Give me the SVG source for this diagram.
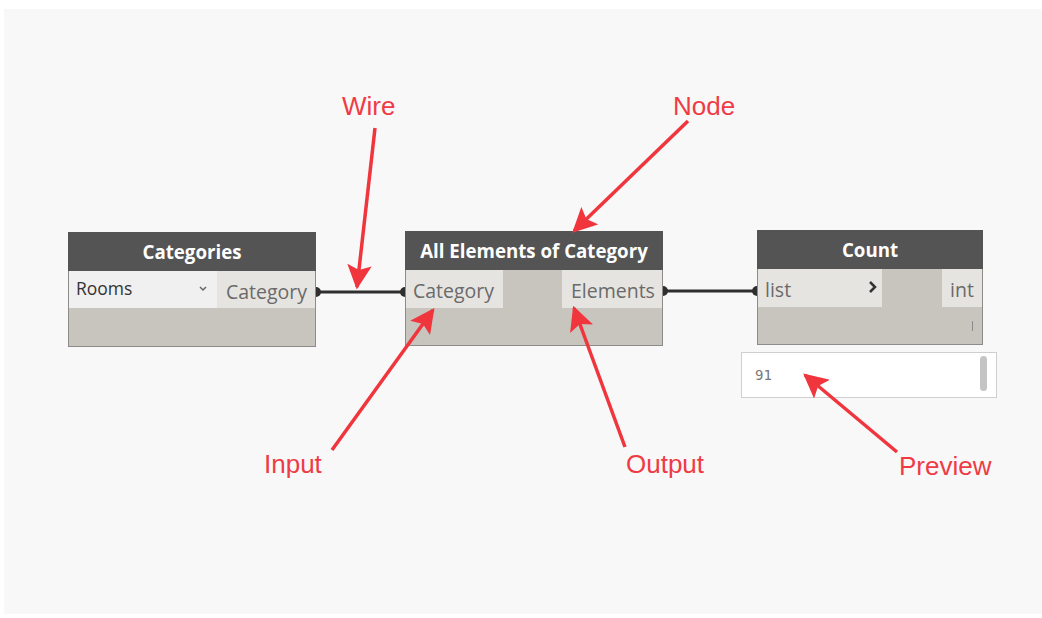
<svg xmlns="http://www.w3.org/2000/svg" width="1042" height="618" viewBox="0 0 1042 618">
  <defs>
    <marker id="head" viewBox="0 0 10 10" refX="9" refY="5" markerWidth="7" markerHeight="7" markerUnits="strokeWidth" orient="auto">
      <path d="M0,0 L10,5 L0,10 L2,5 Z" fill="#f0353d"/>
    </marker>
    <style>
      .hdr { fill: #545454; }
      .body { fill: #c8c4be; stroke: #8e8c88; stroke-width: 1; }
      .port { fill: #e6e4e0; }
      .title { font-family: "Open Sans", "Liberation Sans", sans-serif; font-weight: bold; font-size: 18.7px; fill: #ffffff; text-anchor: middle; }
      .ptxt { font-family: "Open Sans", "Liberation Sans", sans-serif; font-size: 19.5px; fill: #6a6a6a; }
      .wire { stroke: #2f2f2f; stroke-width: 3; fill: none; }
      .nub { fill: #2f2f2f; }
      .call { stroke: #f0353d; stroke-width: 3.5; fill: none; marker-end: url(#head); }
      .lbl { font-family: "Liberation Sans", Arial, sans-serif; font-size: 26px; fill: #ef3b45; }
    </style>
  </defs>

  <rect x="0" y="0" width="1042" height="618" fill="#ffffff"/>
  <rect x="4" y="9" width="1038" height="605" fill="#f8f8f8"/>

  <!-- connectors -->
  <g id="wires">
    <line class="wire" x1="316" y1="292" x2="405" y2="292"/>
    <path class="nub" d="M316,287 a5,5 0 0 1 0,10 Z"/>
    <path class="nub" d="M405,287 a5,5 0 0 0 0,10 Z"/>
    <line class="wire" x1="663" y1="291" x2="757" y2="291"/>
    <path class="nub" d="M663,286 a5,5 0 0 1 0,10 Z"/>
    <path class="nub" d="M757,286 a5,5 0 0 0 0,10 Z"/>
  </g>

  <!-- Categories node -->
  <g id="node-categories">
    <rect class="body" x="68.5" y="232.5" width="247" height="114"/>
    <rect class="hdr" x="68" y="232" width="248" height="39"/>
    <rect x="69" y="271" width="148" height="37" fill="#f0f0f0"/>
    <rect class="port" x="217" y="271" width="98" height="37"/>
    <text class="title" x="192" y="259">Categories</text>
    <text class="ptxt" x="76" y="295" style="fill:#333333;font-size:17.5px">Rooms</text>
    <path d="M200,287 l3,3 l3,-3" stroke="#666" stroke-width="1.5" fill="none"/>
    <text class="ptxt" x="226" y="299">Category</text>
  </g>

  <!-- All Elements of Category node -->
  <g id="node-all-elements">
    <rect class="body" x="405.5" y="231.5" width="257" height="114"/>
    <rect class="hdr" x="405" y="231" width="258" height="39"/>
    <rect class="port" x="406" y="270" width="97" height="38"/>
    <rect class="port" x="562" y="270" width="100" height="38"/>
    <text class="title" x="534" y="258">All Elements of Category</text>
    <text class="ptxt" x="413" y="298">Category</text>
    <text class="ptxt" x="571" y="298">Elements</text>
  </g>

  <!-- Count node -->
  <g id="node-count">
    <rect class="body" x="757.5" y="230.5" width="225" height="114"/>
    <rect class="hdr" x="757" y="230" width="226" height="39"/>
    <rect class="port" x="758" y="269" width="124" height="38"/>
    <rect class="port" x="942" y="269" width="40" height="38"/>
    <text class="title" x="870" y="257">Count</text>
    <text class="ptxt" x="765" y="297">list</text>
    <path d="M870,282 l5,5 l-5,5" stroke="#333" stroke-width="2.5" fill="none"/>
    <text class="ptxt" x="950" y="297">int</text>
    <line x1="972.5" y1="321" x2="972.5" y2="331" stroke="#8a8a8a" stroke-width="1"/>
  </g>

  <!-- Preview bubble -->
  <g id="preview">
    <rect x="741.5" y="352.5" width="255" height="45" fill="#ffffff" stroke="#cfcfcf" stroke-width="1"/>
    <rect x="980" y="356" width="7" height="35" rx="3.5" fill="#c4c4c4"/>
    <text x="755" y="380" font-family="'DejaVu Sans Mono', 'Liberation Mono', monospace" font-size="14" fill="#777777">91</text>
  </g>

  <!-- callouts -->
  <g id="callouts">
    <line class="call" x1="375" y1="128" x2="357" y2="287"/>
    <line class="call" x1="688" y1="121" x2="574" y2="231"/>
    <line class="call" x1="332" y1="450" x2="433" y2="310"/>
    <line class="call" x1="625" y1="447" x2="574" y2="308"/>
    <line class="call" x1="897" y1="452" x2="805" y2="375"/>
    <text class="lbl" x="342" y="115">Wire</text>
    <text class="lbl" x="673" y="115">Node</text>
    <text class="lbl" x="264" y="473">Input</text>
    <text class="lbl" x="626" y="473">Output</text>
    <text class="lbl" x="899" y="475">Preview</text>
  </g>
</svg>
